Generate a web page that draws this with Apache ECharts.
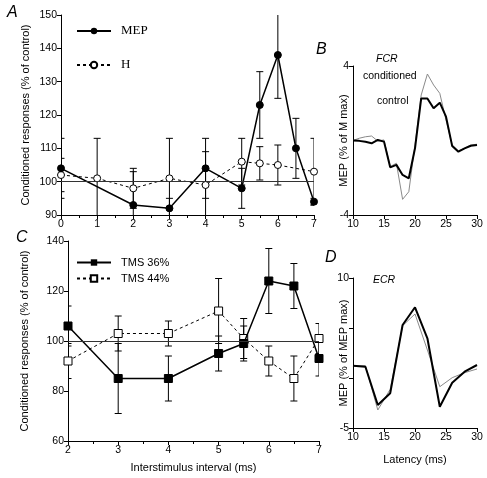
<!DOCTYPE html>
<html><head><meta charset="utf-8">
<script src="https://cdn.jsdelivr.net/npm/echarts@6/dist/echarts.min.js"></script>
<style>html,body{margin:0;padding:0;background:#fff}#c{width:487px;height:478px}</style>
</head><body><div id="c"></div>
<script>
// Panel A
const mepX = [0, 2, 3, 4, 5, 5.5, 6, 6.5, 7];
const mepY = [104, 93, 92, 104, 98, 123, 138, 110, 94];
const mepErr = [9, 10, 3, 9, 6, 10, 13, 9, 1];
const hX = [0, 1, 2, 3, 4, 5, 5.5, 6, 7];
const hY = [102, 101, 98, 101, 99, 106, 105.5, 105, 103];
const hErr = [5, 12, 6, 12, 10, 7, 5, 6, 10];
// Panel B (FCR)
const bX = [10,11,12,13,14,15,16,17,18,19,20,21,22,23,24,25,26,27,28,29,30];
const bControl = [0,-0.02,-0.07,-0.15,0.03,-0.06,-1.44,-1.31,-1.85,-2.03,-0.42,2.26,2.26,1.73,2.03,1.28,-0.3,-0.6,-0.42,-0.28,-0.24];
const bCond = [0,0.12,0.2,0.24,-0.03,0.03,-1.4,-1.22,-3.16,-2.75,-0.24,2.44,3.57,2.98,2.53,1.1,-0.24,-0.55,-0.42,-0.24,-0.2];
// Panel C
const cX = [2, 3, 4, 5, 5.5, 6, 6.5, 7];
const tms36 = [106, 85, 85, 95, 99, 124, 122, 93];
const tms36Err = [8, 14, 9, 7, 7, 13, 9, 7];
const tms44 = [92, 103, 103, 112, 101, 92, 85, 101];
const tms44Err = [7, 7, 5, 13, 8, 6, 9, 6];
// Panel D (ECR)
const dX = [10,12,14,16,18,20,22,24,26,28,30];
const dControl = [1.23,1.13,-2.7,-1.53,5.3,7.07,3.97,-2.87,-0.47,0.63,1.3];
const dCond = [1.23,1.23,-3.2,-1.13,5.23,6.4,2.8,-0.87,0.03,0.53,0.9];

const FONT = 'Liberation Sans';
const pairs = (xs, ys) => xs.map((x, i) => [x, ys[i]]);
const errData = (xs, ys, es) => xs.map((x, i) => [x, ys[i] - es[i], ys[i] + es[i]]);

function errRender(params, api) {
  const x = api.value(0), lo = api.value(1), hi = api.value(2);
  const p1 = api.coord([x, hi]), p2 = api.coord([x, lo]);
  const w = 3.5, st = {stroke: '#000', lineWidth: 1};
  return {type: 'group', children: [
    {type: 'line', shape: {x1: p1[0], y1: p1[1], x2: p2[0], y2: p2[1]}, style: st},
    {type: 'line', shape: {x1: p1[0]-w, y1: p1[1], x2: p1[0]+w, y2: p1[1]}, style: st},
    {type: 'line', shape: {x1: p2[0]-w, y1: p2[1], x2: p2[0]+w, y2: p2[1]}, style: st}
  ]};
}

const axisLine = {onZero: false, lineStyle: {color: '#000', width: 1}};
const tick = {lineStyle: {color: '#000'}, length: 4};
const lab = {color: '#000', fontFamily: FONT, fontSize: 10.5, margin: 4};
const nameStyle = {color: '#000', fontFamily: FONT, fontSize: 11};
const refLine = {silent: true, symbol: 'none', label: {show: false},
  lineStyle: {color: '#333', width: 1.2, type: 'solid'}, data: [{yAxis: 100}]};

const option = {
  animation: false,
  backgroundColor: '#fff',
  grid: [
    {left: 61, top: 15, width: 253, height: 200},
    {left: 353, top: 66, width: 124, height: 149},
    {left: 68, top: 241, width: 251, height: 200},
    {left: 353, top: 278, width: 124, height: 150}
  ],
  xAxis: [
    {gridIndex: 0, type: 'value', min: 0, max: 7, interval: 1, splitLine: {show: false},
     axisLine, axisTick: tick, minorTick: {show: true, splitNumber: 2, length: 3, lineStyle: {color: '#000'}},
     axisLabel: lab},
    {gridIndex: 1, type: 'value', min: 10, max: 30, interval: 5, splitLine: {show: false},
     axisLine, axisTick: tick, axisLabel: lab},
    {gridIndex: 2, type: 'value', min: 2, max: 7, interval: 1, splitLine: {show: false},
     axisLine, axisTick: tick, minorTick: {show: true, splitNumber: 2, length: 3, lineStyle: {color: '#000'}},
     axisLabel: lab, name: 'Interstimulus interval (ms)', nameLocation: 'middle', nameGap: 21, nameTextStyle: nameStyle, nameMoveOverlap: false},
    {gridIndex: 3, type: 'value', min: 10, max: 30, interval: 5, splitLine: {show: false},
     axisLine, axisTick: tick, axisLabel: lab, name: 'Latency (ms)', nameLocation: 'middle', nameGap: 26, nameTextStyle: nameStyle, nameMoveOverlap: false}
  ],
  yAxis: [
    {gridIndex: 0, type: 'value', min: 90, max: 150, interval: 10, splitLine: {show: false},
     axisLine: {show: true, onZero: false, lineStyle: {color: '#000'}}, axisTick: {show: true, length: 4, lineStyle: {color: '#000'}}, axisLabel: lab,
     name: 'Conditioned responses (% of control)', nameLocation: 'middle', nameGap: 30, nameTextStyle: nameStyle, nameMoveOverlap: false},
    {gridIndex: 1, type: 'value', min: -4, max: 4, splitLine: {show: false},
     axisLine: {show: true, onZero: false, lineStyle: {color: '#000'}},
     axisTick: {show: true, length: 4, lineStyle: {color: '#000'}, customValues: [-4, 4]},
     axisLabel: Object.assign({}, lab, {customValues: [-4, 4]}),
     name: 'MEP (% of M max)', nameLocation: 'middle', nameGap: 4, nameTextStyle: nameStyle, nameMoveOverlap: false},
    {gridIndex: 2, type: 'value', min: 60, max: 140, interval: 20, splitLine: {show: false},
     axisLine: {show: true, onZero: false, lineStyle: {color: '#000'}}, axisTick: {show: true, length: 4, lineStyle: {color: '#000'}}, axisLabel: lab,
     name: 'Conditioned responses (% of control)', nameLocation: 'middle', nameGap: 38, nameTextStyle: nameStyle, nameMoveOverlap: false},
    {gridIndex: 3, type: 'value', min: -5, max: 10, interval: 5, splitLine: {show: false},
     axisLine: {show: true, onZero: false, lineStyle: {color: '#000'}}, axisTick: {show: true, length: 4, lineStyle: {color: '#000'}},
     axisLabel: Object.assign({}, lab, {formatter: v => (v === 10 || v === -5) ? String(v) : ''}),
     name: 'MEP (% of MEP max)', nameLocation: 'middle', nameGap: 4, nameTextStyle: nameStyle, nameMoveOverlap: false}
  ],
  legend: [
    {data: ['MEP', 'H'], orient: 'vertical', left: 76, top: 24, padding: 0, itemWidth: 34, itemHeight: 8, itemGap: 20,
     textStyle: {fontFamily: 'Liberation Serif', fontSize: 13, lineHeight: 14, color: '#000', padding: [0, 0, 0, 5]}, selectedMode: false},
    {data: ['TMS 36%', 'TMS 44%'], orient: 'vertical', left: 76, top: 257, padding: 0, itemWidth: 34, itemHeight: 8, itemGap: 5,
     textStyle: {fontFamily: FONT, fontSize: 11, lineHeight: 10, color: '#000', padding: [0, 0, 0, 5]}, selectedMode: false}
  ],
  series: [
    {type: 'custom', xAxisIndex: 0, yAxisIndex: 0, renderItem: errRender, data: errData(mepX, mepY, mepErr), clip: true, z: 1, silent: true},
    {type: 'custom', xAxisIndex: 0, yAxisIndex: 0, renderItem: errRender, data: errData(hX, hY, hErr), clip: true, z: 1, silent: true},
    {name: 'H', type: 'line', xAxisIndex: 0, yAxisIndex: 0, data: pairs(hX, hY), symbol: 'circle', symbolSize: 7,
     lineStyle: {color: '#000', width: 1, type: [3, 3]}, itemStyle: {color: '#fff', borderColor: '#000', borderWidth: 1}, z: 3,
     markLine: refLine},
    {name: 'MEP', type: 'line', xAxisIndex: 0, yAxisIndex: 0, data: pairs(mepX, mepY), symbol: 'circle', symbolSize: 7,
     lineStyle: {color: '#000', width: 1.5}, itemStyle: {color: '#000', borderColor: '#000'}, z: 4},
    {name: 'control', type: 'line', xAxisIndex: 1, yAxisIndex: 1, data: pairs(bX, bCond), symbol: 'none',
     lineStyle: {color: '#8a8a8a', width: 1}, z: 3},
    {name: 'conditioned', type: 'line', xAxisIndex: 1, yAxisIndex: 1, data: pairs(bX, bControl), symbol: 'none',
     lineStyle: {color: '#000', width: 2}, z: 4},
    {type: 'custom', xAxisIndex: 2, yAxisIndex: 2, renderItem: errRender, data: errData(cX, tms36, tms36Err), clip: true, z: 1, silent: true},
    {type: 'custom', xAxisIndex: 2, yAxisIndex: 2, renderItem: errRender, data: errData(cX, tms44, tms44Err), clip: true, z: 1, silent: true},
    {name: 'TMS 44%', type: 'line', xAxisIndex: 2, yAxisIndex: 2, data: pairs(cX, tms44), symbol: 'rect', symbolSize: 8,
     lineStyle: {color: '#000', width: 1, type: [3, 3]}, itemStyle: {color: '#fff', borderColor: '#000', borderWidth: 1}, z: 3,
     markLine: refLine},
    {name: 'TMS 36%', type: 'line', xAxisIndex: 2, yAxisIndex: 2, data: pairs(cX, tms36), symbol: 'rect', symbolSize: 8,
     lineStyle: {color: '#000', width: 1.5}, itemStyle: {color: '#000', borderColor: '#000'}, z: 4},
    {type: 'line', xAxisIndex: 3, yAxisIndex: 3, data: pairs(dX, dCond), symbol: 'none',
     lineStyle: {color: '#8a8a8a', width: 1}, z: 3},
    {type: 'line', xAxisIndex: 3, yAxisIndex: 3, data: pairs(dX, dControl), symbol: 'none',
     lineStyle: {color: '#000', width: 2}, z: 4}
  ],
  graphic: [
    {type: 'text', left: 7, top: 5, style: {text: 'A', font: 'italic 16px "Liberation Sans"', fill: '#000'}},
    {type: 'text', left: 316, top: 42, style: {text: 'B', font: 'italic 16px "Liberation Sans"', fill: '#000'}},
    {type: 'text', left: 16, top: 230, style: {text: 'C', font: 'italic 16px "Liberation Sans"', fill: '#000'}},
    {type: 'text', left: 325, top: 250, style: {text: 'D', font: 'italic 16px "Liberation Sans"', fill: '#000'}},
    {type: 'text', left: 376, top: 54, style: {text: 'FCR', font: 'italic 10.5px "Liberation Sans"', fill: '#000'}},
    {type: 'text', left: 373, top: 275, style: {text: 'ECR', font: 'italic 10.5px "Liberation Sans"', fill: '#000'}},
    {type: 'text', left: 363, top: 71, style: {text: 'conditioned', font: '10.5px "Liberation Sans"', fill: '#000'}},
    {type: 'text', left: 377, top: 96, style: {text: 'control', font: '10.5px "Liberation Sans"', fill: '#000'}}
  ]
};
const chart = echarts.init(document.getElementById('c'), null, {renderer: 'canvas'});
chart.setOption(option);
</script></body></html>
